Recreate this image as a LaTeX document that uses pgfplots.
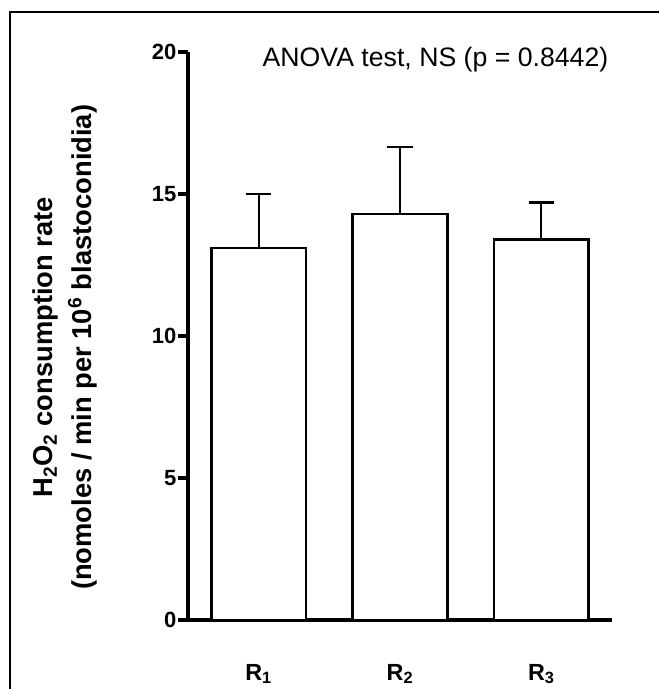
\documentclass[border=0pt]{standalone}
\usepackage{fontspec}
\setmainfont{Liberation Sans}
\usepackage{pgfplots}
\pgfplotsset{compat=1.18}
\begin{document}
\begin{tikzpicture}
\useasboundingbox (0pt,0pt) rectangle (494.25pt,516.75pt);
% frame round the figure (open at right and bottom)
\draw[line width=1.2pt] (7.5pt,-10pt) -- (7.5pt,507.75pt) -- (510pt,507.75pt);
\begin{axis}[
  at={(141pt,51.75pt)}, anchor=south west,
  scale only axis, width=318pt, height=426pt,
  xmin=-0.5, xmax=2.5, ymin=0, ymax=20,
  axis x line=bottom, axis y line=left,
  axis line style={-, line width=3pt},
  ytick={0,5,10,15,20},
  xtick={0,1,2},
  xticklabels={R\textsubscript{1},R\textsubscript{2},R\textsubscript{3}},
  tick align=outside, major tick length=7.5pt,
  ytick style={line width=3pt, black},
  xtick style={draw=none},
  /pgf/number format/assume math mode=true,
  yticklabel style={font=\fontsize{16.5}{18}\selectfont\bfseries, inner sep=1pt},
  xticklabel style={font=\fontsize{17.5}{20}\selectfont\bfseries, yshift=-22pt},
  ylabel={H\textsubscript{2}O\textsubscript{2} consumption rate\\(nomoles / min per 10\textsuperscript{6} blastoconidia)},
  ylabel style={font=\fontsize{20.5}{29}\selectfont\bfseries, align=center,
    at={(axis description cs:-0.29,0.48)}, anchor=center},
  clip=false,
]
\addplot[ybar, bar width=0.67, fill=white, draw=black, line width=2pt,
  error bars/.cd, y dir=plus, y explicit,
  error bar style={line width=1.5pt},
  error mark options={line width=2pt, mark size=9.4pt, rotate=90}]
  coordinates {(0,13.1) +- (0,1.9) (1,14.3) +- (0,2.35) (2,13.4) +- (0,1.3)};
\node[font=\fontsize{20}{24}\selectfont, anchor=base west]
  at (axis description cs:0.165,0.975) {ANOVA test, NS (p = 0.8442)};
\end{axis}
\end{tikzpicture}
\end{document}
